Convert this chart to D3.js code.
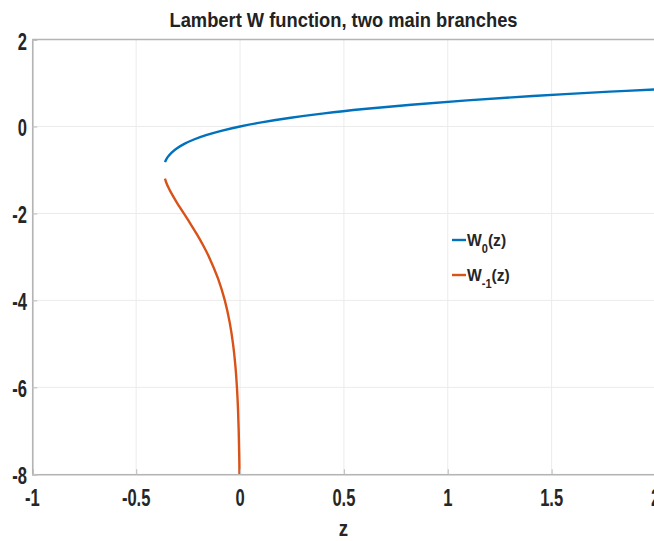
<!DOCTYPE html>
<html>
<head>
<meta charset="utf-8">
<script src="https://cdn.jsdelivr.net/npm/d3@7"></script>
<style>
  html, body { margin: 0; padding: 0; background: #fff; }
  svg { display: block; }
  text { font-family: "Liberation Sans", Arial, sans-serif; font-weight: bold; fill: #262626; }
</style>
</head>
<body>
<svg id="chart" width="654" height="541"></svg>
<script>
// Principal branch W0: pairs (z, W0(z))
const w0Z = [-0.361154, -0.359463, -0.354275, -0.347610, -0.329287, -0.303265, -0.268128,
             -0.222245, -0.163746, -0.090484, 0, 0.110517, 0.244281, 0.404958, 0.596730,
             0.824361, 1.093271, 1.409627, 1.780433, 2.0];
const w0W = [-0.82, -0.8, -0.75, -0.7, -0.6, -0.5, -0.4, -0.3, -0.2, -0.1, 0, 0.1, 0.2, 0.3,
             0.4, 0.5, 0.6, 0.7, 0.8, 0.8526];

// Lower branch W-1: pairs (z, W-1(z))
const wm1Z = [-0.361433, -0.354292, -0.345236, -0.334695, -0.304104, -0.270671, -0.237148,
              -0.205212, -0.175802, -0.149361, -0.105691, -0.073263, -0.049990, -0.033690,
              -0.022477, -0.014873, -0.009772, -0.006383, -0.004148, -0.002684, -0.001111];
const wm1W = [-1.2, -1.3, -1.4, -1.5, -1.75, -2, -2.25, -2.5, -2.75, -3, -3.5, -4, -4.5, -5,
              -5.5, -6, -6.5, -7, -7.5, -8, -9];

const xTicks = [-1, -0.5, 0, 0.5, 1, 1.5, 2];
const yTicks = [2, 0, -2, -4, -6, -8];
const seriesNames = ["W0", "W-1"];
const seriesColors = ["#0072BD", "#D95319"];

const svg = d3.select("#chart");
const x = d3.scaleLinear().domain([-1, 2]).range([32.3, 655.5]);
const y = d3.scaleLinear().domain([-8, 2]).range([474.3, 39.5]);

// grid
const grid = svg.append("g");
grid.selectAll("line.gx").data(xTicks).join("line")
  .attr("x1", d => x(d)).attr("x2", d => x(d))
  .attr("y1", y(2)).attr("y2", y(-8))
  .attr("stroke", "#ebebeb").attr("stroke-width", 1);
grid.selectAll("line.gy").data(yTicks).join("line")
  .attr("x1", x(-1)).attr("x2", x(2))
  .attr("y1", d => y(d)).attr("y2", d => y(d))
  .attr("stroke", "#ebebeb").attr("stroke-width", 1);

// curves
svg.append("defs").append("clipPath").attr("id", "plotclip")
  .append("rect").attr("x", x(-1)).attr("y", y(2))
  .attr("width", x(2) - x(-1)).attr("height", y(-8) - y(2));

const line = d3.line().x(d => x(d[0])).y(d => y(d[1])).curve(d3.curveCatmullRom);
const series = [d3.zip(w0Z, w0W), d3.zip(wm1Z, wm1W)];
svg.append("g").attr("clip-path", "url(#plotclip)")
  .selectAll("path").data(series).join("path")
  .attr("d", line)
  .attr("fill", "none")
  .attr("stroke", (d, i) => seriesColors[i])
  .attr("stroke-width", 2.4)
  .attr("stroke-linejoin", "round");

// axes frame (box)
const axisColor = "#b4b4b4";
const xAxis = d3.axisBottom(x).tickValues(xTicks).tickSize(-5).tickFormat("");
const yAxis = d3.axisLeft(y).tickValues(yTicks).tickSize(-5).tickFormat("");
const gx = svg.append("g").attr("transform", `translate(0,${y(-8)})`).call(xAxis);
const gy = svg.append("g").attr("transform", `translate(${x(-1)},0)`).call(yAxis);
[gx, gy].forEach(g => {
  g.select(".domain").attr("stroke", axisColor).attr("stroke-width", 1.6);
  g.selectAll(".tick line").attr("stroke", "#c4c4c4").attr("stroke-width", 1.2);
});
svg.append("line").attr("x1", x(-1)).attr("x2", x(2)).attr("y1", y(2)).attr("y2", y(2))
  .attr("stroke", axisColor).attr("stroke-width", 1.6);

// tick labels (condensed bold, plain hyphen for negatives)
const sx = 0.72;
svg.append("g").selectAll("text").data(xTicks).join("text")
  .attr("transform", d => `translate(${x(d)},506) scale(${sx},1)`)
  .attr("text-anchor", "middle")
  .attr("font-size", 23)
  .text(d => String(d));
svg.append("g").selectAll("text").data(yTicks).join("text")
  .attr("transform", d => `translate(27,${y(d) + 10}) scale(${sx},1)`)
  .attr("text-anchor", "end")
  .attr("font-size", 23)
  .text(d => String(d));

// axis label
svg.append("text")
  .attr("transform", "translate(343.5,536) scale(0.85,1)")
  .attr("text-anchor", "middle")
  .attr("font-size", 22)
  .text("z");

// title
svg.append("text")
  .attr("x", 343.5).attr("y", 26.5)
  .attr("text-anchor", "middle")
  .attr("font-size", 20.5)
  .attr("textLength", 348)
  .attr("lengthAdjust", "spacingAndGlyphs")
  .style("fill", "#222")
  .text("Lambert W function, two main branches");

// legend
const legendRows = [
  { sub: "0", y: 240 },
  { sub: "-1", y: 275 }
];
const lg = svg.append("g");
legendRows.forEach((r, i) => {
  lg.append("line")
    .attr("x1", 452).attr("x2", 466)
    .attr("y1", r.y).attr("y2", r.y)
    .attr("stroke", seriesColors[i]).attr("stroke-width", 2.4);
  const t = lg.append("text")
    .attr("transform", `translate(467,${r.y + 5.5}) scale(0.92,1)`)
    .attr("font-size", 17);
  t.append("tspan").text("W");
  t.append("tspan").attr("font-size", 12).attr("dy", 7).text(r.sub);
  t.append("tspan").attr("dy", -7).text("(z)");
});
</script>
</body>
</html>
